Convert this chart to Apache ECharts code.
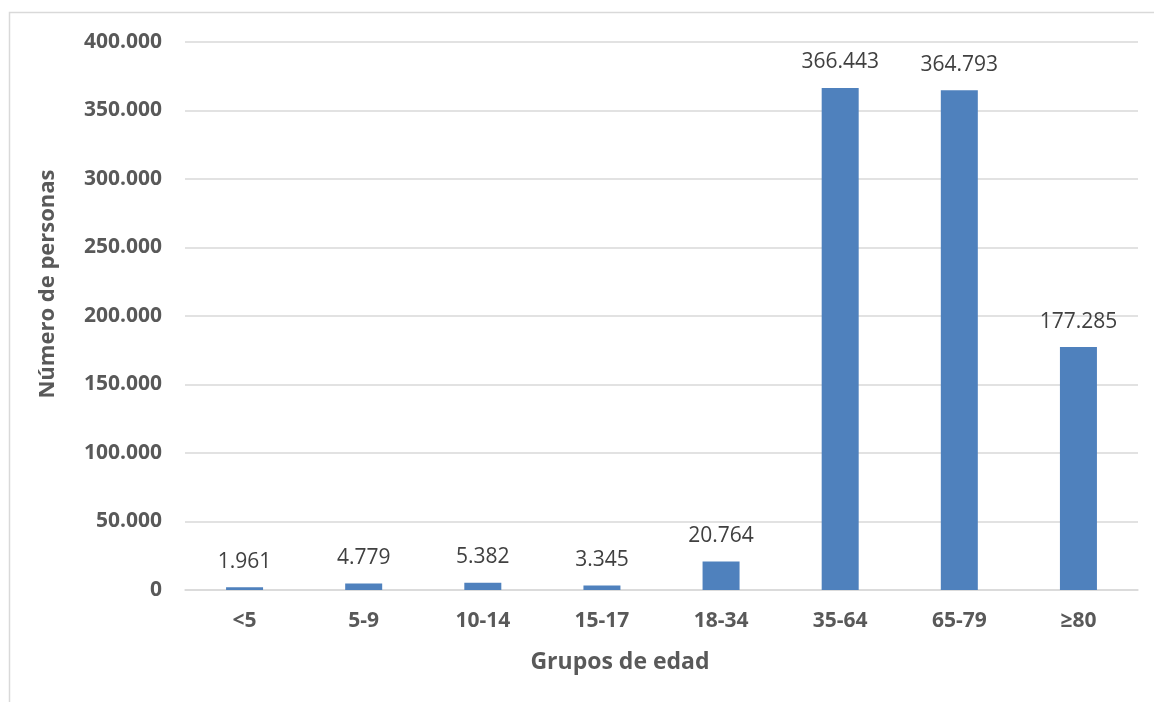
<!doctype html>
<html>
    <head>
        <meta charset="utf-8">
        <title>Grupos de edad</title>
        <style>
            html, body { margin: 0; padding: 0; background: #fff; }
            #main { width: 1154px; height: 702px; }
        </style>
    </head>
    <body>
        <div id="main"></div>
        <script src="https://cdn.jsdelivr.net/npm/echarts@6/dist/echarts.min.js"></script>
        <script>
            var categories = ['<5', '5-9', '10-14', '15-17', '18-34', '35-64', '65-79', '≥80'];
            var personas = [1961, 4779, 5382, 3345, 20764, 366443, 364793, 177285];

            var chart = echarts.init(document.getElementById('main'));

            // separador de miles con punto
            function fmt(v) {
                return String(v).replace(/\B(?=(\d{3})+(?!\d))/g, '.');
            }

            var FONT = '"Open Sans", "Liberation Sans", sans-serif';

            chart.setOption({
                animation: false,
                grid: { left: 185, right: 16, top: 42, bottom: 112, containLabel: false },
                xAxis: {
                    type: 'category',
                    data: categories,
                    axisLine: { lineStyle: { color: '#d9d9d9', width: 1.5 } },
                    axisTick: { show: false },
                    axisLabel: {
                        color: '#595959', fontFamily: FONT, fontWeight: 'bold',
                        fontSize: 21, margin: 21
                    }
                },
                yAxis: {
                    type: 'value',
                    min: 0,
                    max: 400000,
                    interval: 50000,
                    axisLine: { show: false },
                    axisTick: { show: false },
                    splitLine: { lineStyle: { color: '#d9d9d9', width: 1.5 } },
                    axisLabel: {
                        color: '#595959', fontFamily: FONT, fontWeight: 'bold',
                        fontSize: 21, margin: 23,
                        formatter: fmt
                    }
                },
                series: [{
                    type: 'bar',
                    data: personas,
                    barWidth: 37,
                    itemStyle: { color: '#4f81bd' },
                    label: {
                        show: true,
                        position: 'top',
                        distance: 15,
                        color: '#404040',
                        fontFamily: FONT,
                        fontSize: 21,
                        formatter: function (p) { return fmt(p.value); }
                    }
                }],
                graphic: [
                    {
                        type: 'rect',
                        shape: { x: 9.5, y: 12.5, width: 1160, height: 720 },
                        style: { fill: null, stroke: '#d9d9d9', lineWidth: 1.5 },
                        silent: true
                    },
                    {
                        type: 'text',
                        x: 620,
                        y: 662,
                        style: {
                            text: 'Grupos de edad',
                            fill: '#595959',
                            font: 'bold 23px ' + FONT,
                            align: 'center',
                            verticalAlign: 'middle'
                        }
                    },
                    {
                        type: 'text',
                        x: 48,
                        y: 284,
                        rotation: Math.PI / 2,
                        style: {
                            text: 'Número de personas',
                            fill: '#595959',
                            font: 'bold 22px ' + FONT,
                            align: 'center',
                            verticalAlign: 'middle'
                        }
                    }
                ]
            });

            window.addEventListener('resize', function () {
                chart.resize();
            });
        </script>
    </body>
</html>
